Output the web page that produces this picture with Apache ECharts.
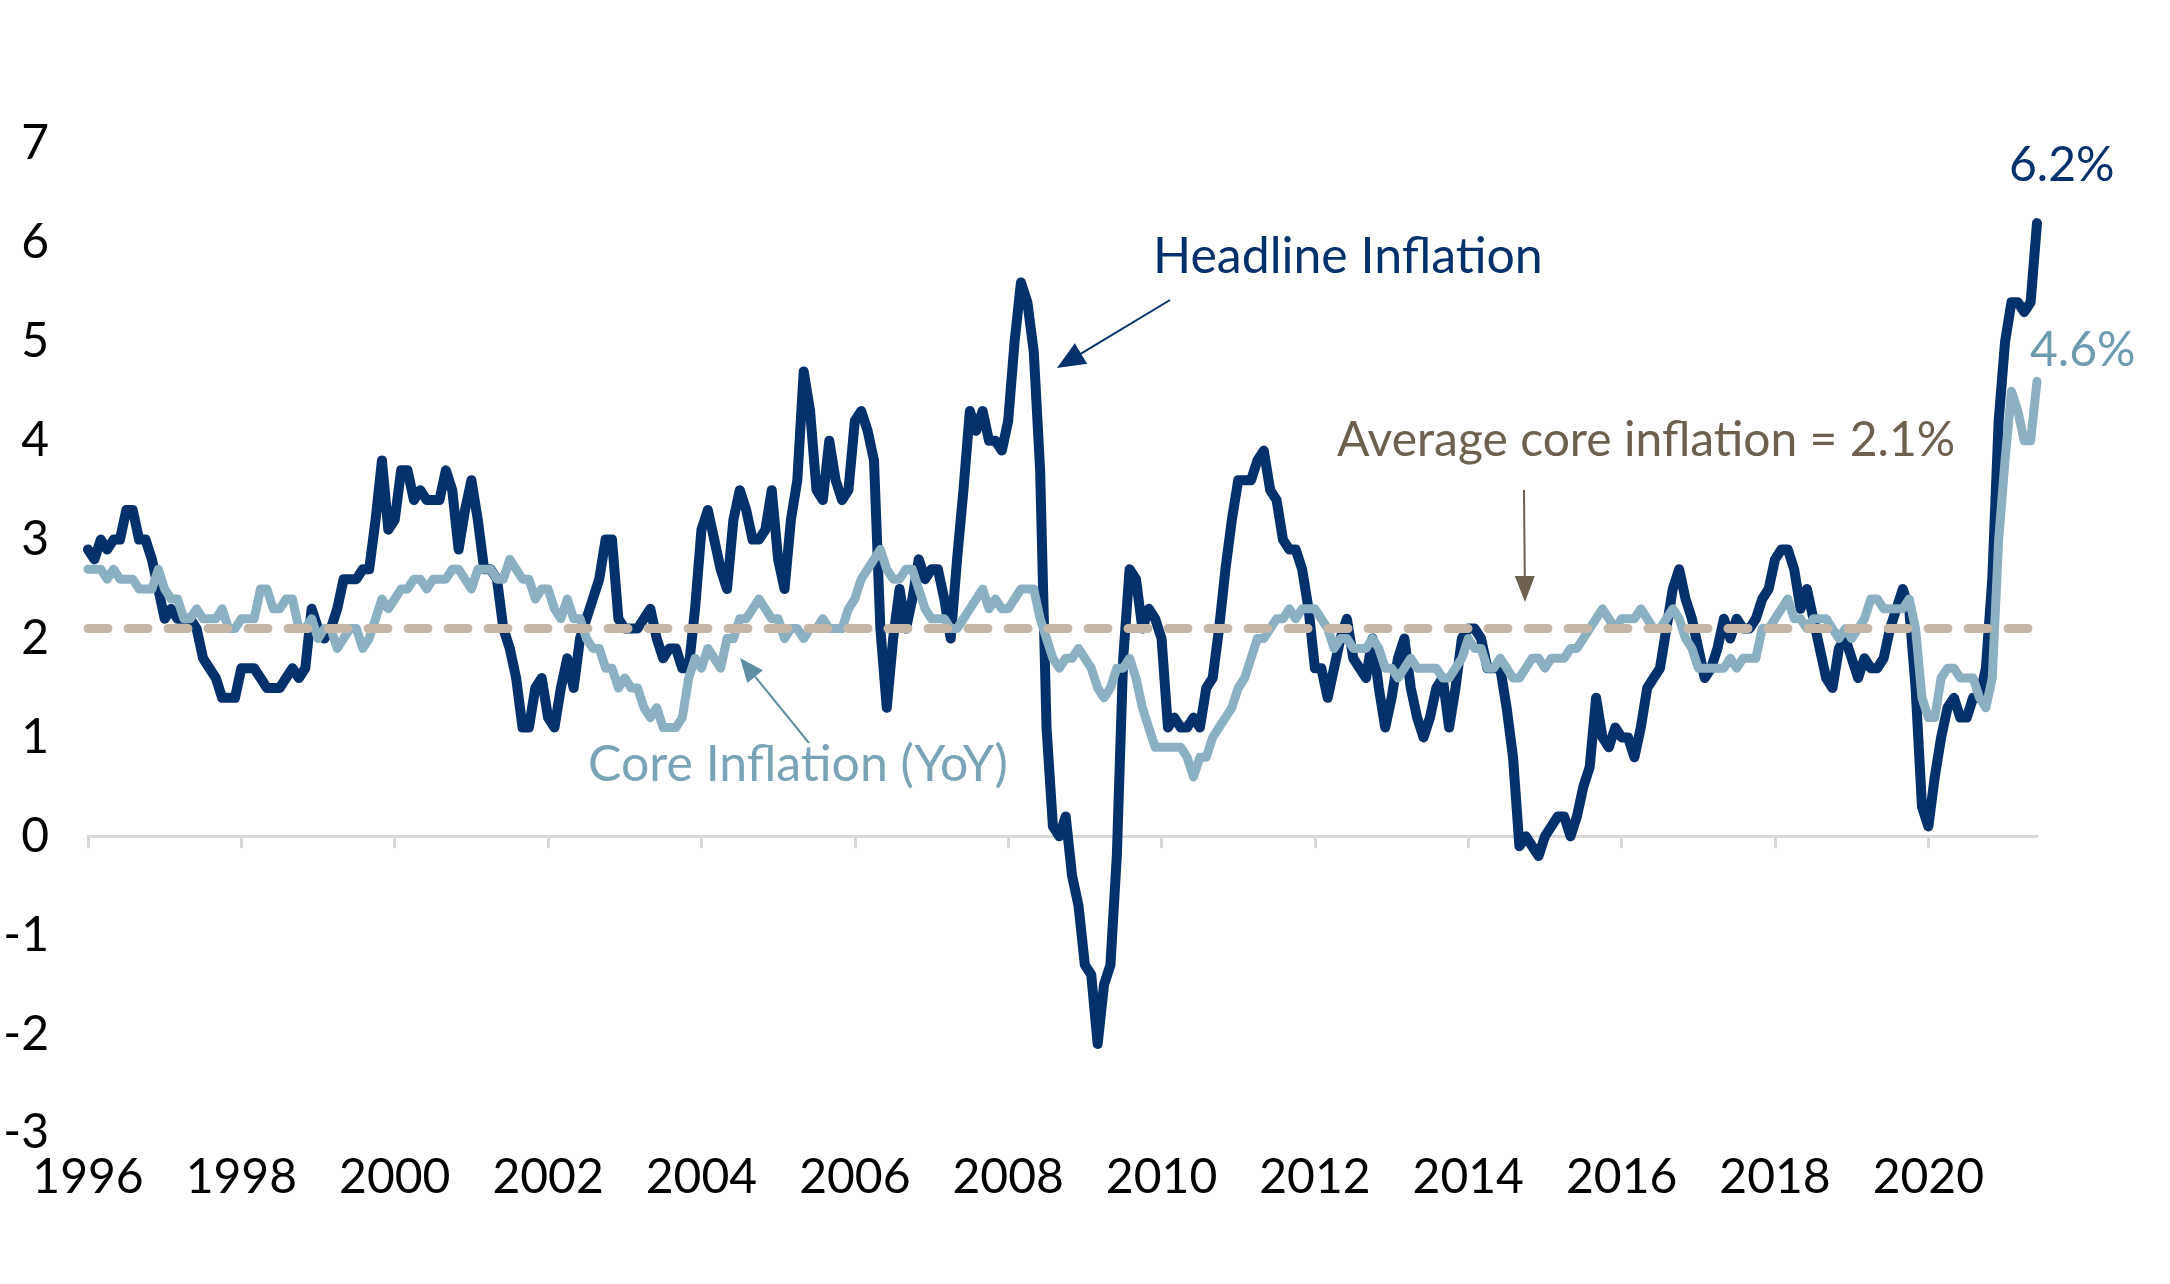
<!DOCTYPE html>
<html>
<head>
<meta charset="utf-8">
<title>Headline vs core inflation</title>
<script src="https://cdn.jsdelivr.net/npm/echarts@6/dist/echarts.min.js"></script>
<style>
	html, body { margin: 0; padding: 0; background: #fff; }
	#chart { width: 2170px; height: 1284px; }
</style>
</head>
<body>
<div id="chart"></div>
<script>
// monthly YoY %, May 1996 .. Oct 2021
var headline = [
	2.9, 2.8, 3.0, 2.9, 3.0, 3.0, 3.3, 3.3,
	3.0, 3.0, 2.8, 2.5, 2.2, 2.3, 2.2, 2.2, 2.2, 2.1, 1.8, 1.7,
	1.6, 1.4, 1.4, 1.4, 1.7, 1.7, 1.7, 1.6, 1.5, 1.5, 1.5, 1.6,
	1.7, 1.6, 1.7, 2.3, 2.1, 2.0, 2.1, 2.3, 2.6, 2.6, 2.6, 2.7,
	2.7, 3.2, 3.8, 3.1, 3.2, 3.7, 3.7, 3.4, 3.5, 3.4, 3.4, 3.4,
	3.7, 3.5, 2.9, 3.3, 3.6, 3.2, 2.7, 2.7, 2.6, 2.1, 1.9, 1.6,
	1.1, 1.1, 1.5, 1.6, 1.2, 1.1, 1.5, 1.8, 1.5, 2.0, 2.2, 2.4,
	2.6, 3.0, 3.0, 2.2, 2.1, 2.1, 2.1, 2.2, 2.3, 2.0, 1.8, 1.9,
	1.9, 1.7, 1.7, 2.3, 3.1, 3.3, 3.0, 2.7, 2.5, 3.2, 3.5, 3.3,
	3.0, 3.0, 3.1, 3.5, 2.8, 2.5, 3.2, 3.6, 4.7, 4.3, 3.5, 3.4,
	4.0, 3.6, 3.4, 3.5, 4.2, 4.3, 4.1, 3.8, 2.1, 1.3, 2.0, 2.5,
	2.1, 2.4, 2.8, 2.6, 2.7, 2.7, 2.4, 2.0, 2.8, 3.5, 4.3, 4.1,
	4.3, 4.0, 4.0, 3.9, 4.2, 5.0, 5.6, 5.4, 4.9, 3.7, 1.1, 0.1,
	0.0, 0.2, -0.4, -0.7, -1.3, -1.4, -2.1, -1.5, -1.3, -0.2, 1.8, 2.7,
	2.6, 2.1, 2.3, 2.2, 2.0, 1.1, 1.2, 1.1, 1.1, 1.2, 1.1, 1.5,
	1.6, 2.1, 2.7, 3.2, 3.6, 3.6, 3.6, 3.8, 3.9, 3.5, 3.4, 3.0,
	2.9, 2.9, 2.7, 2.3, 1.7, 1.7, 1.4, 1.7, 2.0, 2.2, 1.8, 1.7,
	1.6, 2.0, 1.5, 1.1, 1.4, 1.8, 2.0, 1.5, 1.2, 1.0, 1.2, 1.5,
	1.6, 1.1, 1.5, 2.0, 2.1, 2.1, 2.0, 1.7, 1.7, 1.7, 1.3, 0.8,
	-0.1, 0.0, -0.1, -0.2, 0.0, 0.1, 0.2, 0.2, 0.0, 0.2, 0.5, 0.7,
	1.4, 1.0, 0.9, 1.1, 1.0, 1.0, 0.8, 1.1, 1.5, 1.6, 1.7, 2.1,
	2.5, 2.7, 2.4, 2.2, 1.9, 1.6, 1.7, 1.9, 2.2, 2.0, 2.2, 2.1,
	2.1, 2.2, 2.4, 2.5, 2.8, 2.9, 2.9, 2.7, 2.3, 2.5, 2.2, 1.9,
	1.6, 1.5, 1.9, 2.0, 1.8, 1.6, 1.8, 1.7, 1.7, 1.8, 2.1, 2.3,
	2.5, 2.3, 1.5, 0.3, 0.1, 0.6, 1.0, 1.3, 1.4, 1.2, 1.2, 1.4,
	1.4, 1.7, 2.6, 4.2, 5.0, 5.4, 5.4, 5.3, 5.4, 6.2
];

var core = [
	2.7, 2.7, 2.7, 2.6, 2.7, 2.6, 2.6, 2.6,
	2.5, 2.5, 2.5, 2.7, 2.5, 2.4, 2.4, 2.2, 2.2, 2.3, 2.2, 2.2,
	2.2, 2.3, 2.1, 2.1, 2.2, 2.2, 2.2, 2.5, 2.5, 2.3, 2.3, 2.4,
	2.4, 2.1, 2.1, 2.2, 2.0, 2.1, 2.1, 1.9, 2.0, 2.1, 2.1, 1.9,
	2.0, 2.2, 2.4, 2.3, 2.4, 2.5, 2.5, 2.6, 2.6, 2.5, 2.6, 2.6,
	2.6, 2.7, 2.7, 2.6, 2.5, 2.7, 2.7, 2.7, 2.6, 2.6, 2.8, 2.7,
	2.6, 2.6, 2.4, 2.5, 2.5, 2.3, 2.2, 2.4, 2.2, 2.2, 2.0, 1.9,
	1.9, 1.7, 1.7, 1.5, 1.6, 1.5, 1.5, 1.3, 1.2, 1.3, 1.1, 1.1,
	1.1, 1.2, 1.6, 1.8, 1.7, 1.9, 1.8, 1.7, 2.0, 2.0, 2.2, 2.2,
	2.3, 2.4, 2.3, 2.2, 2.2, 2.0, 2.1, 2.1, 2.0, 2.1, 2.1, 2.2,
	2.1, 2.1, 2.1, 2.3, 2.4, 2.6, 2.7, 2.8, 2.9, 2.7, 2.6, 2.6,
	2.7, 2.7, 2.5, 2.3, 2.2, 2.2, 2.2, 2.1, 2.1, 2.2, 2.3, 2.4,
	2.5, 2.3, 2.4, 2.3, 2.3, 2.4, 2.5, 2.5, 2.5, 2.2, 2.0, 1.8,
	1.7, 1.8, 1.8, 1.9, 1.8, 1.7, 1.5, 1.4, 1.5, 1.7, 1.7, 1.8,
	1.6, 1.3, 1.1, 0.9, 0.9, 0.9, 0.9, 0.9, 0.8, 0.6, 0.8, 0.8,
	1.0, 1.1, 1.2, 1.3, 1.5, 1.6, 1.8, 2.0, 2.0, 2.1, 2.2, 2.2,
	2.3, 2.2, 2.3, 2.3, 2.3, 2.2, 2.1, 1.9, 2.0, 2.0, 1.9, 1.9,
	1.9, 2.0, 1.9, 1.7, 1.7, 1.6, 1.7, 1.8, 1.7, 1.7, 1.7, 1.7,
	1.6, 1.6, 1.7, 1.8, 2.0, 1.9, 1.9, 1.7, 1.7, 1.8, 1.7, 1.6,
	1.6, 1.7, 1.8, 1.8, 1.7, 1.8, 1.8, 1.8, 1.9, 1.9, 2.0, 2.1,
	2.2, 2.3, 2.2, 2.1, 2.2, 2.2, 2.2, 2.3, 2.2, 2.1, 2.1, 2.2,
	2.3, 2.2, 2.0, 1.9, 1.7, 1.7, 1.7, 1.7, 1.7, 1.8, 1.7, 1.8,
	1.8, 1.8, 2.1, 2.1, 2.2, 2.3, 2.4, 2.2, 2.2, 2.1, 2.2, 2.2,
	2.2, 2.1, 2.0, 2.1, 2.0, 2.1, 2.2, 2.4, 2.4, 2.3, 2.3, 2.3,
	2.3, 2.4, 2.1, 1.4, 1.2, 1.2, 1.6, 1.7, 1.7, 1.6, 1.6, 1.6,
	1.4, 1.3, 1.6, 3.0, 3.8, 4.5, 4.3, 4.0, 4.0, 4.6
];

var avgCore = 2.1;
var startYear = 1996, startMonth = 5;

var months = [];
for (var i = 0; i < headline.length; i++) {
	var m = startMonth - 1 + i;
	var yr = startYear + Math.floor(m / 12);
	var mo = (m % 12) + 1;
	months.push(yr + '-' + (mo < 10 ? '0' + mo : mo));
}

var NAVY = '#03316b';
var CORE = '#8ab0c2';
var DASH = '#c4b7a7';
var FONT = 'Lato';

function endLabel(color, offset) {
	return {
		show: true,
		offset: offset,
		distance: 5,
		color: color,
		fontSize: 48,
		fontFamily: FONT,
		formatter: function (p) { return p.value + '%'; }
	};
}

function arrow(x1, y1, x2, y2, color, headLen, headW, lineW) {
	var a = Math.atan2(y2 - y1, x2 - x1);
	var bx = x2 - headLen * Math.cos(a), by = y2 - headLen * Math.sin(a);
	var px = -Math.sin(a) * headW, py = Math.cos(a) * headW;
	return [{
		type: 'line',
		shape: { x1: x1, y1: y1, x2: bx, y2: by },
		style: { stroke: color, lineWidth: lineW }
	}, {
		type: 'polygon',
		shape: { points: [[x2, y2], [bx + px, by + py], [bx - px, by - py]] },
		style: { fill: color }
	}];
}

function note(text, x, y, color, size) {
	return {
		type: 'text',
		x: x,
		y: y,
		style: {
			text: text,
			fill: color,
			font: size + 'px ' + FONT,
			verticalAlign: 'middle'
		}
	};
}

var chart = echarts.init(document.getElementById('chart'));

var graphics = [].concat(
	note('Headline Inflation', 1153, 257, NAVY, 50),
	arrow(1170, 300, 1057, 368, NAVY, 28, 12, 2),
	note('Average core inflation = 2.1%', 1337, 441, '#6e604f', 48),
	arrow(1524, 490, 1525, 602, '#6e604f', 26, 10, 2),
	note('Core Inflation (YoY)', 588, 765, '#7aa3b7', 50),
	arrow(809, 743, 740, 658, '#5f8ea2', 24, 10, 2)
);

var option = {
	animation: false,
	backgroundColor: '#fff',
	textStyle: { fontFamily: FONT },
	grid: { left: 88, right: 133, top: 144, bottom: 151, containLabel: false },
	xAxis: [{
		type: 'category',
		data: months,
		boundaryGap: false,
		axisLine: { onZero: true, lineStyle: { color: '#d9d9d9', width: 3 } },
		axisTick: { show: true, interval: 23, length: 12, lineStyle: { color: '#d9d9d9', width: 3 } },
		axisLabel: { show: false },
		splitLine: { show: false }
	}, {
		type: 'category',
		data: months,
		boundaryGap: false,
		position: 'bottom',
		axisLine: { show: false, onZero: false },
		axisTick: { show: false },
		axisLabel: {
			interval: 23,
			margin: 21,
			color: '#000',
			fontSize: 48,
			fontFamily: FONT,
			formatter: function (v) { return v.slice(0, 4); }
		},
		splitLine: { show: false }
	}],
	yAxis: {
		type: 'value',
		min: -3,
		max: 7,
		interval: 1,
		axisLine: { show: false },
		axisTick: { show: false },
		splitLine: { show: false },
		axisLabel: { margin: 39, color: '#000', fontSize: 48, fontFamily: FONT }
	},
	series: [{
		name: 'Headline Inflation',
		type: 'line',
		xAxisIndex: 0,
		data: headline,
		showSymbol: false,
		symbol: 'none',
		lineStyle: { color: NAVY, width: 10, join: 'round', cap: 'round' },
		endLabel: endLabel(NAVY, [-33, -58]),
		z: 2
	}, {
		name: 'Core Inflation (YoY)',
		type: 'line',
		xAxisIndex: 0,
		data: core,
		showSymbol: false,
		symbol: 'none',
		lineStyle: { color: CORE, width: 9, join: 'round', cap: 'round' },
		endLabel: endLabel('#6f9bb0', [-12, -31]),
		z: 3,
		markLine: {
			silent: true,
			symbol: 'none',
			label: { show: false },
			lineStyle: { color: DASH, width: 9, type: [20, 20], cap: 'round' },
			data: [{ yAxis: avgCore }]
		}
	}],
	graphic: graphics
};

chart.setOption(option);
</script>
</body>
</html>
